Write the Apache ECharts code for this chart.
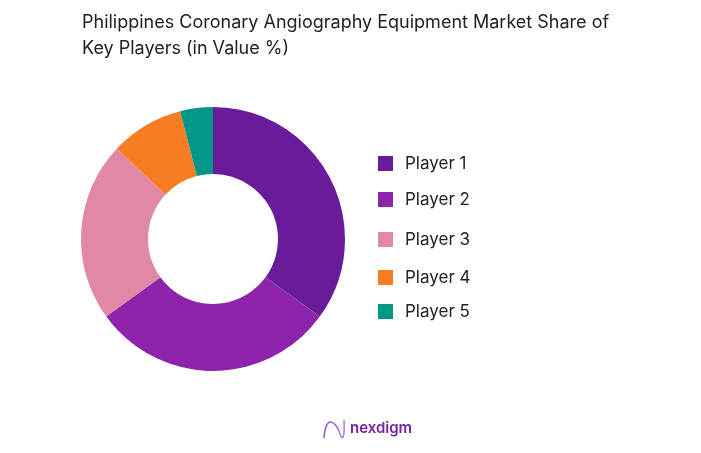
<!DOCTYPE html>
<html>
<head>
<meta charset="utf-8">
<style>
html, body { margin: 0; padding: 0; background: #fff; }
#chart { width: 701px; height: 453px; }
</style>
<script src="https://cdn.jsdelivr.net/npm/echarts@6/dist/echarts.min.js"></script>
</head>
<body>
<div id="chart"></div>
<script>
var players = ['Player 1', 'Player 2', 'Player 3', 'Player 4', 'Player 5'];
var shares = [35, 30, 22, 9, 4];
var colors = ['#6a1b9a', '#8e24aa', '#e088a5', '#f87c22', '#009688'];
var legendTops = [155, 191, 231, 269, 303];

var chart = echarts.init(document.getElementById('chart'));

// legend rows are not evenly spaced in the picture, so one legend per player
var legends = players.map(function (name, i) {
    return {
        data: [name],
        left: 378,
        top: legendTops[i],
        orient: 'vertical',
        padding: 0,
        itemWidth: 15,
        itemHeight: 15,
        itemGap: 0,
        icon: 'rect',
        selectedMode: false,
        textStyle: { fontFamily: 'Inter', fontSize: 17, color: '#222', padding: [0, 0, 0, 7] }
    };
});

var option = {
    animation: false,
    color: colors,
    title: {
        text: 'Philippines Coronary Angiography Equipment Market Share of\nKey Players (in Value %)',
        left: 82,
        top: 10,
        padding: 0,
        textStyle: { fontFamily: 'Inter', fontSize: 18, fontWeight: 'normal', color: '#222', lineHeight: 26 }
    },
    legend: legends,
    series: [{
        type: 'pie',
        center: [213, 239],
        radius: [65, 132],
        startAngle: 90,
        label: { show: false },
        labelLine: { show: false },
        data: players.map(function (name, i) {
            return { name: name, value: shares[i] };
        })
    }],
    graphic: [
        {
            type: 'bezierCurve',
            shape: { x1: 324, y1: 438, cpx1: 326, cpy1: 412, cpx2: 336, cpy2: 424, x2: 339, y2: 431 },
            style: { stroke: '#8e5bd0', lineWidth: 1.5, fill: 'none' }
        },
        {
            type: 'bezierCurve',
            shape: { x1: 339, y1: 431, cpx1: 342, cpy1: 442, cpx2: 345, cpy2: 440, x2: 344, y2: 420 },
            style: { stroke: '#b07ce0', lineWidth: 1.5, fill: 'none' }
        },
        {
            type: 'text',
            left: 350,
            top: 421,
            style: { text: 'nexdigm', fontFamily: 'Inter', fontSize: 15, fontWeight: 600, fill: '#7b1fa2' }
        }
    ]
};

chart.setOption(option);
</script>
</body>
</html>
